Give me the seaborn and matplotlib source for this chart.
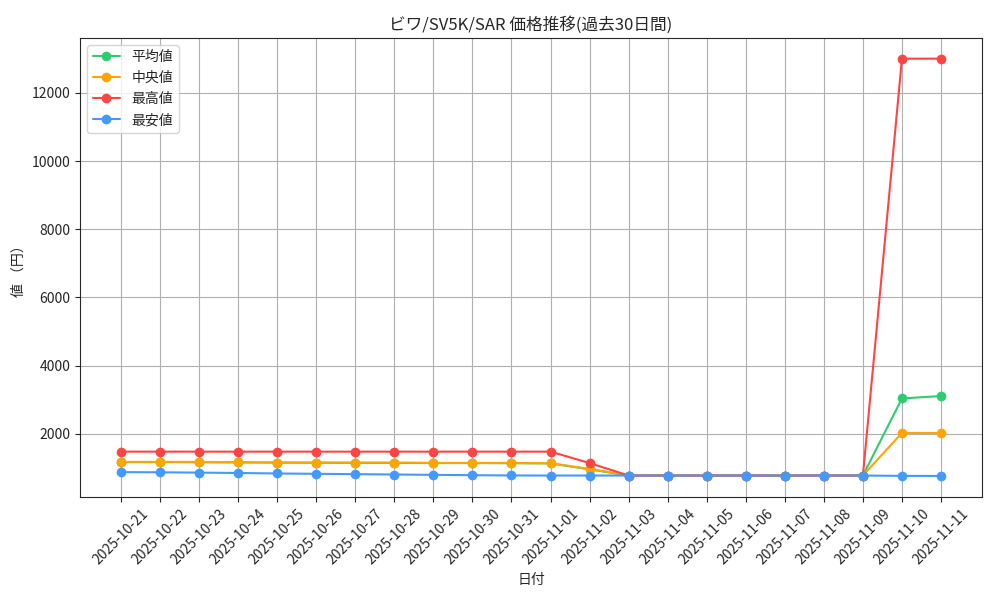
import pandas as pd
import matplotlib
matplotlib.use("Agg")
import matplotlib.pyplot as plt
import seaborn as sns

dates = ["2025-10-21", "2025-10-22", "2025-10-23", "2025-10-24", "2025-10-25",
         "2025-10-26", "2025-10-27", "2025-10-28", "2025-10-29", "2025-10-30",
         "2025-10-31", "2025-11-01", "2025-11-02", "2025-11-03", "2025-11-04",
         "2025-11-05", "2025-11-06", "2025-11-07", "2025-11-08", "2025-11-09",
         "2025-11-10", "2025-11-11"]
avg_price = [1175, 1175, 1170, 1165, 1160, 1155, 1150, 1150, 1145, 1145, 1140, 1135,
             960, 780, 780, 780, 780, 780, 780, 780, 3040, 3110]
median_price = [1180, 1180, 1180, 1170, 1160, 1160, 1160, 1160, 1150, 1150, 1150, 1140,
                975, 780, 780, 780, 780, 780, 780, 780, 2030, 2025]
max_price = [1480, 1480, 1480, 1480, 1480, 1480, 1480, 1480, 1480, 1480, 1480, 1480,
             1145, 780, 780, 780, 780, 780, 780, 780, 13000, 13000]
min_price = [880, 875, 865, 855, 840, 830, 820, 810, 800, 790, 782, 780,
             780, 780, 780, 780, 780, 780, 780, 780, 770, 768]

series = {"平均値": avg_price, "中央値": median_price, "最高値": max_price, "最安値": min_price}
colors = {"平均値": "#2ecc71", "中央値": "#ffa500", "最高値": "#ff4444", "最安値": "#4499ff"}

sns.set_style("ticks")
plt.rcParams['font.family'] = ['Noto Sans CJK JP', 'DejaVu Sans']
plt.rcParams['axes.unicode_minus'] = False

fig, ax = plt.subplots(figsize=(10, 6), dpi=100)
for name, vals in series.items():
    d = pd.DataFrame({"date": dates, "price": vals})
    sns.lineplot(data=d, x="date", y="price", ax=ax, color=colors[name], marker="o",
                 markersize=7, markeredgewidth=0, linewidth=1.5, label=name, sort=False)

ax.grid(True, color="#b0b0b0", linewidth=0.8)
ax.set_axisbelow(True)
ax.set_title("ビワ/SV5K/SAR 価格推移(過去30日間)", fontsize=12)
ax.set_xlabel("日付", fontsize=10)
ax.set_ylabel("値 （円）", fontsize=10)
plt.xticks(rotation=45)
ax.tick_params(labelsize=10)
ax.legend(loc="upper left", fontsize=10)
plt.subplots_adjust(left=0.08, right=0.982, top=0.937, bottom=0.172)
plt.savefig("out.png")
